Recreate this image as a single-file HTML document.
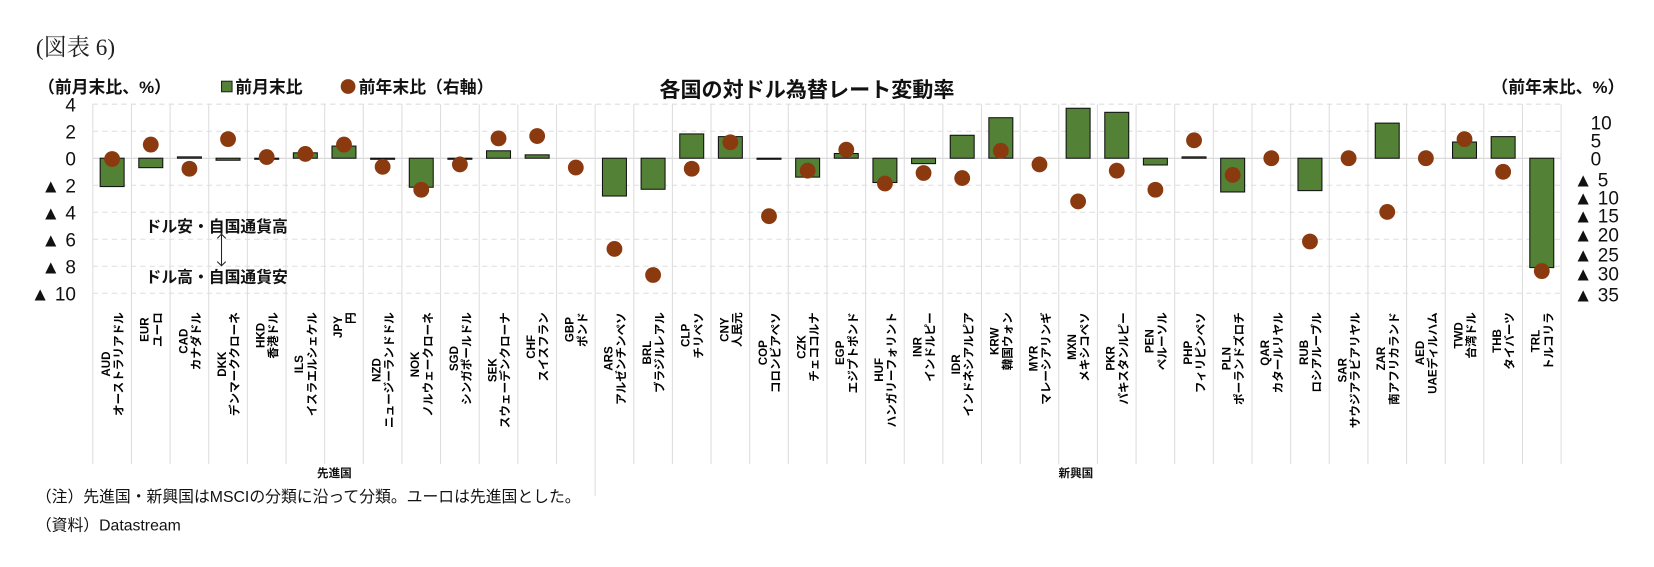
<!DOCTYPE html>
<html><head><meta charset="utf-8">
<style>
body{margin:0;background:#fff;width:1654px;height:567px;overflow:hidden}
svg{display:block;font-family:"Liberation Sans","Noto Sans CJK JP",sans-serif}
</style></head>
<body>
<svg id="chart" width="1654" height="567">
<g transform="scale(1.0548)">
<text x="34" y="52" font-family="Liberation Serif,Noto Serif CJK SC,serif" font-size="22" fill="#222">(図表 6)</text>
<text x="36" y="88" font-size="16" font-weight="bold" fill="#111">（前月末比、%）</text>
<rect x="210" y="77" width="10" height="10" fill="#538135" stroke="#222" stroke-width="1"/>
<text x="223" y="88" font-size="16" font-weight="bold" fill="#111">前月末比</text>
<circle cx="330" cy="82" r="7" fill="#8B3A0F"/>
<text x="340" y="88" font-size="16" font-weight="bold" fill="#111">前年末比（右軸）</text>
<text x="765" y="92" font-size="20" font-weight="bold" text-anchor="middle" fill="#111">各国の対ドル為替レート変動率</text>
<text x="1540" y="88" font-size="16" font-weight="bold" text-anchor="end" fill="#111">（前年末比、%）</text>
<g id="grid"></g><g id="bars"></g><g id="dots"></g><g id="ticks"></g><g id="labels"></g>
<text x="138" y="220" font-size="15" font-weight="bold" fill="#111">ドル安・自国通貨高</text>
<line x1="210" y1="222" x2="210" y2="252" stroke="#222" stroke-width="1"/>
<path d="M206,226 L210,222 L214,226 M206,248 L210,252 L214,248" fill="none" stroke="#222"/>
<text x="138" y="268" font-size="15" font-weight="bold" fill="#111">ドル高・自国通貨安</text>
<text x="317" y="452" font-size="11" font-weight="bold" text-anchor="middle" fill="#111">先進国</text>
<text x="1020" y="452" font-size="11" font-weight="bold" text-anchor="middle" fill="#111">新興国</text>
<text x="34" y="476" font-size="15" fill="#111">（注）先進国・新興国はMSCIの分類に沿って分類。ユーロは先進国とした。</text>
<text x="34" y="503" font-size="15" fill="#111">（資料）Datastream</text>
</g>
</svg>
<script>
const codes=["AUD","EUR","CAD","DKK","HKD","ILS","JPY","NZD","NOK","SGD","SEK","CHF","GBP","ARS","BRL","CLP","CNY","COP","CZK","EGP","HUF","INR","IDR","KRW","MYR","MXN","PKR","PEN","PHP","PLN","QAR","RUB","SAR","ZAR","AED","TWD","THB","TRL"];
const names=["オーストラリアドル","ユーロ","カナダドル","デンマーククローネ","香港ドル","イスラエルシェケル","円","ニュージーランドドル","ノルウェークローネ","シンガポールドル","スウェーデンクローナ","スイスフラン","ポンド","アルゼンチンペソ","ブラジルレアル","チリペソ","人民元","コロンビアペソ","チェココルナ","エジプトポンド","ハンガリーフォリント","インドルピー","インドネシアルピア","韓国ウォン","マレーシアリンギ","メキシコペソ","パキスタンルピー","ペルーソル","フィリピンペソ","ポーランドズロチ","カタールリヤル","ロシアルーブル","サウジアラビアリヤル","南アフリカランド","UAEディルハム","台湾ドル","タイバーツ","トルコリラ"];
const monthly=[-2.1,-0.7,0.1,-0.15,-0.05,0.4,0.9,-0.05,-2.15,-0.05,0.55,0.25,0,-2.8,-2.3,1.8,1.6,-0.05,-1.4,0.35,-1.8,-0.4,1.7,3.0,0,3.7,3.4,-0.5,0.1,-2.5,0,-2.4,0,2.6,0,1.2,1.6,-8.1];
const yearly=[-0.2,3.5,-2.7,4.9,0.3,1.1,3.5,-2.2,-8.1,-1.6,5.1,5.7,-2.4,-23.3,-30,-2.7,4.1,-14.9,-3.2,2.2,-6.5,-3.8,-5.1,1.9,-1.6,-11.1,-3.2,-8.1,4.6,-4.3,0,-21.4,0,-13.8,0,4.9,-3.5,-29];
const leftTicks=[4,2,0,-2,-4,-6,-8,-10];
const rightTicks=[10,5,0,-5,-10,-15,-20,-25,-30,-35];
const NS="http://www.w3.org/2000/svg";
const X0=88,X1=1480,Y0=150;
const step=(X1-X0)/codes.length;
const xc=i=>X0+step*(i+0.5);
const yL=v=>Y0-v*12.8;
const yR=v=>Y0-v*3.69;
function mk(tag,at,parent){const e=document.createElementNS(NS,tag);for(const k in at)e.setAttribute(k,at[k]);document.getElementById(parent).appendChild(e);return e;}
leftTicks.forEach(t=>{const l=mk('line',{x1:X0,x2:X1,y1:yL(t),y2:yL(t),stroke:t===0?'#d0d0d0':'#ddd','stroke-dasharray':t===0?'':'5,4'},'grid');


const tx=mk('text',{x:72,y:yL(t)+7,'text-anchor':'end','font-size':18,fill:'#111'},'ticks');tx.textContent=t<0?'▲ '+(-t):String(t);

});
for(let i=0;i<=codes.length;i++){const x=X0+step*i;const l=mk('line',{x1:x,x2:x,y1:yL(4),y2:(i===13)?470:440,stroke:'#ddd'},'grid');

}
rightTicks.forEach((t,k)=>{const y=[116,133,150,170,187,204,222,241,259,279][k];const tx=mk('text',{x:t<0?1492:1508,y:y+7,'font-size':18,fill:'#111'},'ticks');tx.textContent=t<0?'▲ '+(-t):String(t);

});
codes.forEach((c,i)=>{
 const v=monthly[i];const bw=step*0.62;
 if(v!==0){const b=mk('rect',{x:xc(i)-bw/2,y:Math.min(yL(v),Y0),width:bw,height:Math.max(Math.abs(yL(v)-Y0),1),fill:'#538135',stroke:'#111','stroke-width':1},'bars');
 
 }
 const d=mk('circle',{cx:xc(i),cy:yR(yearly[i]),r:7.5,fill:'#8B3A0F'},'dots');
 
 
 const g=mk('g',{transform:`translate(${xc(i)},296) rotate(-90)`},'labels');
 
 
 const n=document.createElementNS(NS,'text');n.setAttribute('x',0);n.setAttribute('y',10);n.setAttribute('text-anchor','end');n.setAttribute('font-size','11');n.setAttribute('font-weight','bold');n.textContent=names[i];g.appendChild(n);
 const len=n.getComputedTextLength();
 const t=document.createElementNS(NS,'text');t.setAttribute('x',-Math.max(len/2,14));t.setAttribute('y',-2);t.setAttribute('text-anchor','middle');t.setAttribute('font-size','11');t.setAttribute('font-weight','bold');t.textContent=c;g.appendChild(t);
});
</script>
</body></html>
